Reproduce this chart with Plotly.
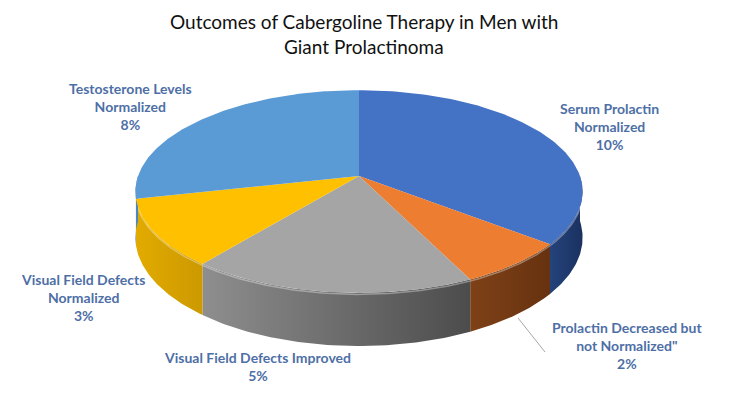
import numpy as np
import plotly.graph_objects as go

# ---------------- data ----------------
categories = [
    "Serum Prolactin Normalized",
    'Prolactin Decreased but not Normalized"',
    "Visual Field Defects Improved",
    "Visual Field Defects Normalized",
    "Testosterone Levels Normalized",
]
values = [10, 2, 5, 3, 8]  # percent
label_lines = [
    "Serum Prolactin<br>Normalized",
    'Prolactin Decreased but<br>not Normalized"',
    "Visual Field Defects Improved",
    "Visual Field Defects<br>Normalized",
    "Testosterone Levels<br>Normalized",
]
label_pos = [(609, 126), (627, 345), (257, 366), (83, 297), (130, 106)]

top_colors = ["#4472C4", "#ED7D31", "#A5A5A5", "#FFC000", "#5B9BD5"]
wall_colors = [("#24437C", "#1B3160"), ("#7E4117", "#673210"),
               ("#8E8E8E", "#4C4C4C"), ("#E2AB00", "#CC9900"),
               ("#4E8AC4", "#4A84BC")]
label_color = "#4E6FA6"

# ---------------- 3D pie geometry (pixel space) ----------------
W, H = 731, 395
OFF = 8                # page body margin
CX, CY = 359, 176      # projected centre of top face
A, B = 221, 99         # semi-axes
K = 0.153              # perspective factor
D = 45                 # wall depth


def proj(theta_deg):
    """theta measured clockwise from 12 o'clock"""
    phi = np.radians(90 - np.asarray(theta_deg, dtype=float))
    u, v = np.cos(phi), np.sin(phi)
    w = 1 + K * v
    return CX + A * u / w, CY - B * v / w, w


total = sum(values)
bounds = np.concatenate([[0], np.cumsum(values) / total * 360])

fig = go.Figure()

# walls (front half: theta in [90, 270])
for i in range(len(values)):
    t0, t1 = max(bounds[i], 90), min(bounds[i + 1], 270)
    if t1 <= t0:
        continue
    th = np.linspace(t0, t1, 60)
    x, y, w = proj(th)
    yb = y + D / w
    xs = np.concatenate([x, x[::-1], [x[0]]])
    ys = np.concatenate([y, yb[::-1], [y[0]]])
    c1, c2 = wall_colors[i]
    fig.add_trace(go.Scatter(
        x=xs, y=ys, mode="lines", fill="toself",
        line=dict(width=0, color=c2),
        fillgradient=dict(type="horizontal", colorscale=[[0, c1], [1, c2]]),
        hoverinfo="skip", showlegend=False))
    # subtle bevel highlight along top edge
    fig.add_trace(go.Scatter(
        x=x, y=y + 1.5, mode="lines",
        line=dict(width=1.5, color="rgba(255,255,255,0.35)"),
        hoverinfo="skip", showlegend=False))

# top faces
for i in range(len(values)):
    th = np.linspace(bounds[i], bounds[i + 1], 120)
    x, y, _ = proj(th)
    xs = np.concatenate([[CX], x, [CX]])
    ys = np.concatenate([[CY], y, [CY]])
    fig.add_trace(go.Scatter(
        x=xs, y=ys, mode="lines", fill="toself",
        fillcolor=top_colors[i], line=dict(width=0, color=top_colors[i]),
        name=categories[i], text=f"{categories[i]}: {values[i]}%",
        hoverinfo="text", showlegend=False))

# leader line for small slice
fig.add_trace(go.Scatter(x=[518, 545], y=[318, 352], mode="lines",
                         line=dict(color="#A6A6A6", width=1),
                         hoverinfo="skip", showlegend=False))

annotations = []
for lab, v, (lx, ly) in zip(label_lines, values, label_pos):
    annotations.append(dict(
        x=lx, y=ly, xref="x", yref="y", showarrow=False,
        text=f"<b>{lab}<br>{v}%</b>",
        font=dict(family="Lato", size=14, color=label_color),
        align="center", xanchor="center", yanchor="middle"))

annotations.append(dict(x=364, y=21, xref="x", yref="y", showarrow=False,
                        text="Outcomes of Cabergoline Therapy in Men with",
                        font=dict(family="Lato", size=19, color="#111111"),
                        xanchor="center", yanchor="middle"))
annotations.append(dict(x=364, y=46, xref="x", yref="y", showarrow=False,
                        text="Giant Prolactinoma",
                        font=dict(family="Lato", size=19, color="#111111"),
                        xanchor="center", yanchor="middle"))

fig.update_layout(
    width=W - OFF, height=H - OFF,
    margin=dict(l=0, r=0, t=0, b=0),
    paper_bgcolor="white", plot_bgcolor="white",
    xaxis=dict(range=[OFF, W], visible=False, fixedrange=True),
    yaxis=dict(range=[H, OFF], visible=False, fixedrange=True),
    annotations=annotations,
)

fig.write_html("out.html")
